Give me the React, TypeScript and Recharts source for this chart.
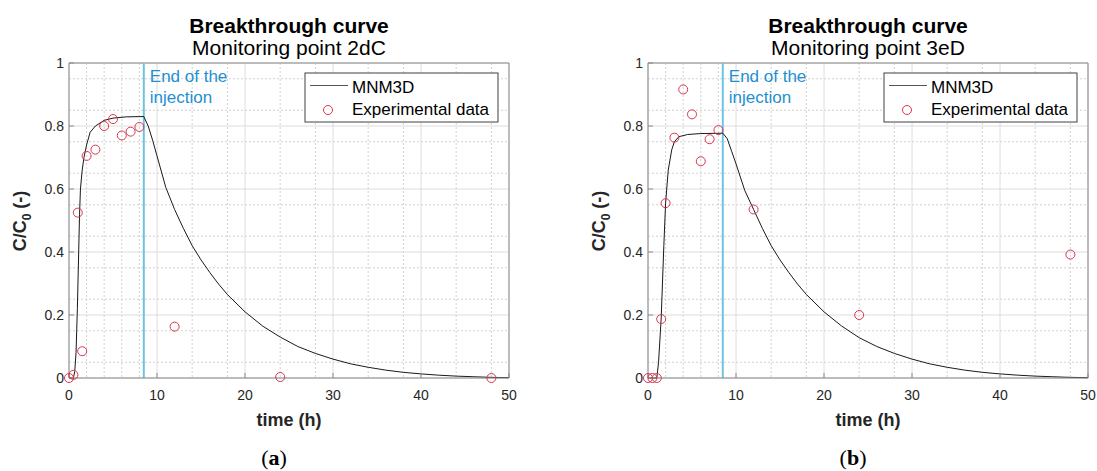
import React from 'react';
import {
    ComposedChart,
    Line,
    Scatter,
    XAxis,
    YAxis,
    CartesianGrid,
    ReferenceLine,
} from 'recharts';

// sampling times of the experimental data (h)
const expTime = [0, 0.5, 1, 1.5, 2, 3, 4, 5, 6, 7, 8, 12, 24, 48];
const exp2dC = [0, 0.01, 0.525, 0.085, 0.705, 0.725, 0.8, 0.822, 0.77, 0.782, 0.797, 0.163, 0.003, 0];
const exp3eD = [0, 0, 0, 0.187, 0.555, 0.763, 0.916, 0.837, 0.688, 0.758, 0.787, 0.535, 0.2, 0.392];

// MNM3D model curves
const modelTime2dC = [0, 0.5, 0.65, 0.8, 0.95, 1.1, 1.2, 1.3, 1.5, 1.7, 2, 2.4, 3, 4, 5, 6.5, 8.5,
    9, 9.5, 10, 11, 12, 13, 14, 15, 16, 17, 18, 20, 22, 24, 26, 28, 30, 32, 34, 36, 38, 40, 42, 44, 46, 48, 50];
const model2dC = [0, 0, 0.02, 0.08, 0.22, 0.4, 0.52, 0.6, 0.66, 0.7, 0.74, 0.78, 0.8, 0.818, 0.825, 0.829, 0.83,
    0.8, 0.755, 0.705, 0.605, 0.535, 0.475, 0.42, 0.375, 0.335, 0.298, 0.265, 0.21, 0.165, 0.13, 0.1, 0.078, 0.06,
    0.045, 0.034, 0.025, 0.018, 0.013, 0.009, 0.006, 0.004, 0.002, 0.001];

const modelTime3eD = [0, 1, 1.2, 1.5, 1.8, 2, 2.3, 2.7, 3, 3.5, 4.5, 6, 8.5,
    9, 9.5, 10, 11, 12, 13, 14, 15, 16, 17, 18, 20, 22, 24, 26, 28, 30, 32, 34, 36, 38, 40, 42, 44, 46, 48, 50];
const model3eD = [0, 0, 0.05, 0.19, 0.42, 0.555, 0.66, 0.725, 0.75, 0.766, 0.773, 0.776, 0.777,
    0.76, 0.72, 0.68, 0.595, 0.535, 0.475, 0.42, 0.375, 0.335, 0.298, 0.265, 0.21, 0.165, 0.128, 0.1, 0.078, 0.06,
    0.045, 0.034, 0.025, 0.018, 0.013, 0.009, 0.006, 0.004, 0.002, 0.001];

const injectionEnd = 8.5;

const xTicks = [0, 10, 20, 30, 40, 50];
const yTicks = [0, 0.2, 0.4, 0.6, 0.8, 1];
const xMinor = Array.from({length: 26}, (_, i) => i * 2).filter(v => v % 10 !== 0);
const yMinor = Array.from({length: 21}, (_, i) => i * 5).filter(v => v % 20 !== 0).map(v => v / 100);

const FONT = '"Liberation Sans", Arial, sans-serif';
const RED = '#d6384f';
const BLUE_TEXT = '#1f8fd0';
const BLUE_LINE = '#6cc4e4';
const AXIS = '#8a8a8a';

const W = 518;
const H = 471;

const EndLabel = (props: any) => {
    const vb = props.viewBox || {};
    const x = vb.x + 6;
    const y = vb.y;
    return (
        <g fontFamily={FONT} fontSize={17} fill={BLUE_TEXT}>
            <text x={x} y={y + 19}>End of the</text>
            <text x={x} y={y + 40}>injection</text>
        </g>
    );
};

const Panel = ({left, subtitle, caption, modelT, modelC, expC}: any) => {
    const model = modelT.map((t: number, i: number) => ({t, c: modelC[i]}));
    const exp = expTime.map((t, i) => ({t, c: expC[i]}));
    return (
        <div style={{position: 'absolute', left, top: 0, width: W, height: H}}>
            <ComposedChart width={W} height={H} margin={{top: 63, right: 9, bottom: 63, left: 29}}>
                <CartesianGrid stroke="#d2d2d2" strokeDasharray="2 2"
                               verticalValues={xMinor} horizontalValues={yMinor}/>
                <CartesianGrid stroke="#dcdcdc" verticalValues={xTicks} horizontalValues={yTicks}/>
                <XAxis dataKey="t" type="number" domain={[0, 50]} ticks={xTicks}
                       height={30} stroke={AXIS} tickSize={-5} tickMargin={17}
                       tick={{fill: '#262626', fontSize: 14, fontFamily: FONT}}/>
                <YAxis type="number" domain={[0, 1]} ticks={yTicks}
                       width={40} stroke={AXIS} tickSize={-5} tickMargin={10}
                       tick={{fill: '#262626', fontSize: 14, fontFamily: FONT}}/>
                <ReferenceLine y={1} stroke={AXIS}/>
                <ReferenceLine x={50} stroke={AXIS}/>
                <ReferenceLine x={injectionEnd} stroke={BLUE_LINE} strokeWidth={2}
                               label={(p: any) => <EndLabel {...p}/>}/>
                <Line data={model} dataKey="c" type="linear" stroke="#1a1a1a" strokeWidth={1}
                      dot={false} isAnimationActive={false}/>
                <Scatter data={exp} dataKey="c" isAnimationActive={false}
                         shape={(p: any) => <circle cx={p.cx} cy={p.cy} r={4.5} fill="none"
                                                    stroke={RED} strokeWidth={1}/>}/>
            </ComposedChart>
            <svg width={W} height={H} style={{position: 'absolute', left: 0, top: 0, pointerEvents: 'none'}}
                 fontFamily={FONT}>
                <text x={289} y={33} textAnchor="middle" fontSize={21} fontWeight="bold" fill="#000">
                    Breakthrough curve
                </text>
                <text x={289} y={55} textAnchor="middle" fontSize={21} fill="#000">{subtitle}</text>
                <text transform="translate(26,221) rotate(-90)" textAnchor="middle" fontSize={18}
                      fontWeight="bold" fill="#262626">
                    C/C<tspan dy={5} fontSize={12}>0</tspan><tspan dy={-5}> (-)</tspan>
                </text>
                <text x={289} y={426} textAnchor="middle" fontSize={18} fontWeight="bold" fill="#262626">
                    time (h)
                </text>
                <g>
                    <rect x={305} y={73} width={193} height={49} fill="#fff" stroke="#404040" strokeWidth={1}/>
                    <line x1={310} y1={85.5} x2={348} y2={85.5} stroke="#555" strokeWidth={1}/>
                    <text x={352} y={93} fontSize={17} fill="#000">MNM3D</text>
                    <circle cx={328} cy={110} r={4.5} fill="none" stroke={RED} strokeWidth={1}/>
                    <text x={352} y={115} fontSize={17} fill="#000">Experimental data</text>
                </g>
                <text x={274} y={465} textAnchor="middle" fontSize={22}
                      fontFamily='"Liberation Serif", "DejaVu Serif", serif' fill="#000">
                    (<tspan fontWeight="bold">{caption}</tspan>)
                </text>
            </svg>
        </div>
    );
};

export default function App() {
    return (
        <div style={{position: 'absolute', left: 0, top: 0, width: 1097, height: 471, background: '#fff'}}>
            <Panel left={0} subtitle="Monitoring point 2dC" caption="a"
                   modelT={modelTime2dC} modelC={model2dC} expC={exp2dC}/>
            <Panel left={579} subtitle="Monitoring point 3eD" caption="b"
                   modelT={modelTime3eD} modelC={model3eD} expC={exp3eD}/>
        </div>
    );
}
